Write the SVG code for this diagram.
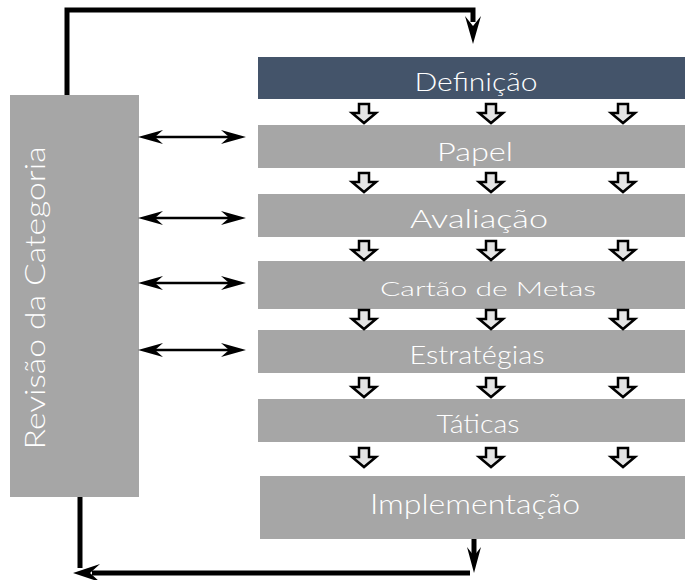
<svg xmlns="http://www.w3.org/2000/svg" width="685" height="580" viewBox="0 0 685 580">
  <defs>
    <style>
      .bar { fill: #a6a6a6; }
      .dark { fill: #44546a; }
      .lbl { fill: #ffffff; font-family: "Lato", "Open Sans", "DejaVu Sans", sans-serif; font-weight: 300; text-anchor: middle; }
      .thick { fill: none; stroke: #000000; stroke-width: 5; stroke-linejoin: miter; }
      .thin { fill: none; stroke: #000000; stroke-width: 2.5; }
      .head { fill: #000000; }
      .hollow { fill: #e4e4e4; stroke: #000000; stroke-width: 2.5; stroke-linejoin: miter; }
    </style>
    <path id="harrow" d="M-5,0 H5 V9 H12 L0,19 L-12,9 H-5 Z"/>
    <path id="barbL" d="M0,0 L25,-7 L17,0 L25,7 Z"/>
    <path id="barbR" d="M0,0 L-25,-7 L-17,0 L-25,7 Z"/>
  </defs>

  <g id="revisao">
    <rect class="bar" x="10" y="95" width="129" height="402"/>
    <text class="lbl" x="0" y="0" font-size="28" textLength="303" lengthAdjust="spacingAndGlyphs" transform="translate(45,298) rotate(-90)">Revisão da Categoria</text>
  </g>

  <g id="definicao">
    <rect class="dark" x="258" y="57" width="427" height="42"/>
    <text class="lbl" x="476" y="91" font-size="25" textLength="123" lengthAdjust="spacingAndGlyphs">Definição</text>
  </g>

  <g id="papel">
    <rect class="bar" x="258" y="125" width="427" height="43"/>
    <text class="lbl" x="475" y="161" font-size="25" textLength="76" lengthAdjust="spacingAndGlyphs">Papel</text>
  </g>

  <g id="avaliacao">
    <rect class="bar" x="258" y="194" width="427" height="43"/>
    <text class="lbl" x="479" y="228" font-size="25" textLength="138" lengthAdjust="spacingAndGlyphs">Avaliação</text>
  </g>

  <g id="cartao">
    <rect class="bar" x="258" y="261" width="427" height="48"/>
    <text class="lbl" x="488" y="296" font-size="20" textLength="216" lengthAdjust="spacingAndGlyphs">Cartão de Metas</text>
  </g>

  <g id="estrategias">
    <rect class="bar" x="258" y="330" width="427" height="43"/>
    <text class="lbl" x="477" y="364" font-size="25" textLength="135" lengthAdjust="spacingAndGlyphs">Estratégias</text>
  </g>

  <g id="taticas">
    <rect class="bar" x="258" y="399" width="427" height="43"/>
    <text class="lbl" x="478" y="433" font-size="25" textLength="83" lengthAdjust="spacingAndGlyphs">Táticas</text>
  </g>

  <g id="implementacao">
    <rect class="bar" x="260" y="476" width="425" height="63"/>
    <text class="lbl" x="475" y="514" font-size="28" textLength="210" lengthAdjust="spacingAndGlyphs">Implementação</text>
  </g>

  <g id="connectors">
    <!-- feedback loop top -->
    <path class="thick" d="M67,95 V10 H473 V22"/>
    <path class="head" d="M473,44 L465,16 L473,26 L481,16 Z"/>
    <!-- implementation down -->
    <path class="thick" d="M474,539 V556"/>
    <path class="head" d="M474,573 L467,547 L474,556 L481,547 Z"/>
    <!-- bottom return -->
    <path class="thick" d="M470,573 H92"/>
    <path class="head" d="M73,573 L100,564 L90,573 L100,582 Z"/>
    <path class="thick" d="M80,497 V568"/>

    <!-- double arrows -->
    <g>
      <path class="thin" d="M150,137 H234"/>
      <use href="#barbL" class="head" x="138" y="137"/>
      <use href="#barbR" class="head" x="246" y="137"/>
    </g>
    <g>
      <path class="thin" d="M150,218 H234"/>
      <use href="#barbL" class="head" x="138" y="218"/>
      <use href="#barbR" class="head" x="246" y="218"/>
    </g>
    <g>
      <path class="thin" d="M150,283 H234"/>
      <use href="#barbL" class="head" x="138" y="283"/>
      <use href="#barbR" class="head" x="246" y="283"/>
    </g>
    <g>
      <path class="thin" d="M150,350 H234"/>
      <use href="#barbL" class="head" x="138" y="350"/>
      <use href="#barbR" class="head" x="246" y="350"/>
    </g>

    <!-- hollow flow arrows -->
    <use href="#harrow" class="hollow" x="364" y="104"/>
    <use href="#harrow" class="hollow" x="491" y="104"/>
    <use href="#harrow" class="hollow" x="623" y="104"/>
    <use href="#harrow" class="hollow" x="364" y="173"/>
    <use href="#harrow" class="hollow" x="491" y="173"/>
    <use href="#harrow" class="hollow" x="623" y="173"/>
    <use href="#harrow" class="hollow" x="364" y="241"/>
    <use href="#harrow" class="hollow" x="491" y="241"/>
    <use href="#harrow" class="hollow" x="623" y="241"/>
    <use href="#harrow" class="hollow" x="364" y="310"/>
    <use href="#harrow" class="hollow" x="491" y="310"/>
    <use href="#harrow" class="hollow" x="623" y="310"/>
    <use href="#harrow" class="hollow" x="364" y="378"/>
    <use href="#harrow" class="hollow" x="491" y="378"/>
    <use href="#harrow" class="hollow" x="623" y="378"/>
    <use href="#harrow" class="hollow" x="364" y="448"/>
    <use href="#harrow" class="hollow" x="491" y="448"/>
    <use href="#harrow" class="hollow" x="623" y="448"/>
  </g>
</svg>
